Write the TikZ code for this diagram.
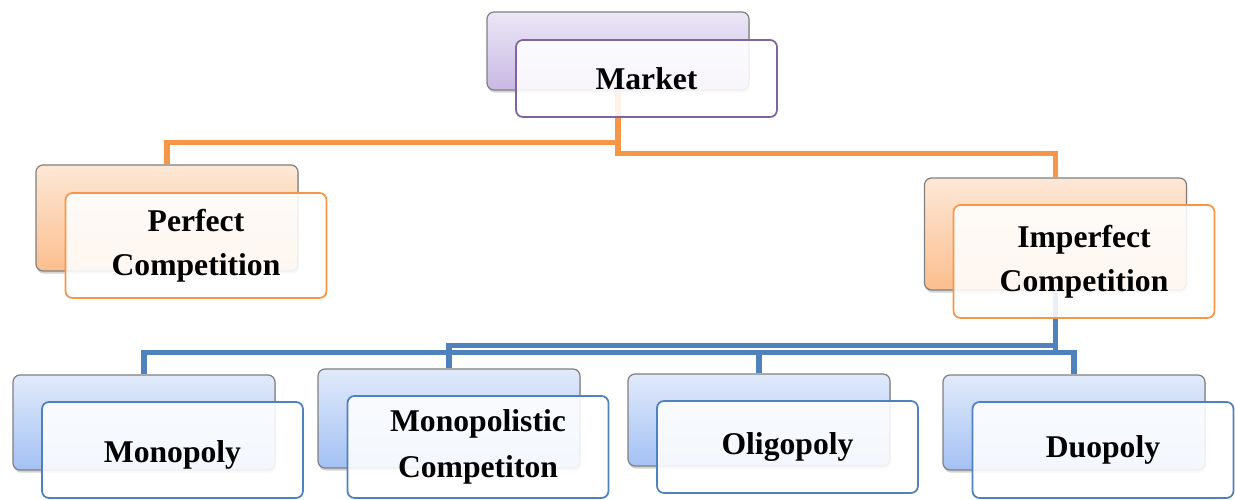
\documentclass[tikz,border=0pt]{standalone}
\usepackage{fontspec}
\setmainfont{Liberation Serif}
\usetikzlibrary{shadows,backgrounds}
\definecolor{morange}{RGB}{247,150,70}
\definecolor{mblue}{RGB}{79,129,189}
\definecolor{mpurple}{RGB}{128,100,162}
\definecolor{mgray}{RGB}{128,128,128}
\definecolor{ptop}{RGB}{236,231,246}
\definecolor{pbot}{RGB}{200,184,228}
\definecolor{otop}{RGB}{253,232,214}
\definecolor{obot}{RGB}{251,190,142}
\definecolor{btop}{RGB}{225,234,251}
\definecolor{bbot}{RGB}{163,193,244}
\tikzset{
  back/.style  ={rectangle, rounded corners=4pt, draw=mgray, line width=0.7pt,
                 minimum width=5.24cm, inner sep=0pt,
                 drop shadow={shadow xshift=0.5pt, shadow yshift=-1.5pt, opacity=0.35}},
  front/.style ={rectangle, rounded corners=4pt, line width=1pt, fill=white,
                 fill opacity=0.88, text opacity=1, minimum width=5.22cm, inner sep=0pt,
                 align=center, font=\fontsize{18}{26}\selectfont\bfseries},
  pback/.style ={back, top color=ptop, bottom color=pbot},
  oback/.style ={back, top color=otop, bottom color=obot},
  bback/.style ={back, top color=btop, bottom color=bbot},
  oline/.style ={draw=morange, line width=2.9pt},
  bline/.style ={draw=mblue, line width=2.9pt}
}
\begin{document}
\begin{tikzpicture}
\useasboundingbox (0,0) rectangle (24.7,10);

% top level
\node[pback, minimum height=1.56cm] (mkt) at (12.36,8.98) {};
\node[front, draw=mpurple, minimum height=1.54cm] (mktf) at (12.93,8.43) {Market};

% second level
\node[oback, minimum height=2.12cm] (pc) at (3.34,5.64) {};
\node[front, draw=morange, minimum height=2.1cm] (pcf) at (3.92,5.09) {Perfect\\[-1pt]Competition};
\node[oback, minimum height=2.24cm] (imp) at (21.11,5.32) {};
\node[front, draw=morange, minimum height=2.26cm] (impf) at (21.68,4.77) {Imperfect\\[-1pt]Competition};

% third level
\node[bback, minimum height=1.9cm] (mon) at (2.88,1.55) {};
\node[front, draw=mblue, minimum height=1.92cm, text height=14.7pt, text depth=0pt] (monf) at (3.45,1.0) {Monopoly};
\node[bback, minimum height=1.98cm] (msc) at (8.98,1.63) {};
\node[front, draw=mblue, minimum height=2.04cm] (mscf) at (9.56,1.06) {Monopolistic\\Competiton};
\node[bback, minimum height=1.84cm] (oli) at (15.18,1.6) {};
\node[front, draw=mblue, minimum height=1.84cm] (olif) at (15.75,1.06) {Oligopoly};
\node[bback, minimum height=1.9cm] (duo) at (21.48,1.55) {};
\node[front, draw=mblue, minimum height=1.92cm] (duof) at (22.06,1.0) {Duopoly};

\begin{scope}[on background layer]
\draw[oline] (mkt.south) -- ++(0,-1.04) -| (pc.north);
\draw[oline] (mkt.south) -- ++(0,-1.26) -| (imp.north);
\draw[bline] (imp.south) -- ++(0,-1.1) -| (msc.north);
\foreach \c in {mon,oli,duo}{\draw[bline] (imp.south) -- ++(0,-1.24) -| (\c.north);}
\end{scope}
\end{tikzpicture}
\end{document}
